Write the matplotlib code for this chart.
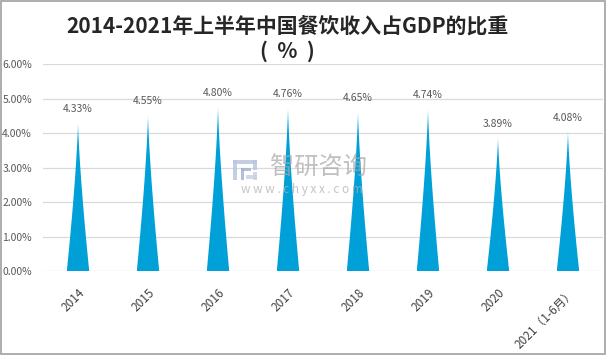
import numpy as np
import matplotlib.pyplot as plt
from matplotlib.patches import Polygon, Rectangle
from matplotlib.colors import LinearSegmentedColormap
from matplotlib.ticker import PercentFormatter

plt.rcParams['font.family'] = ['Noto Sans CJK SC', 'DejaVu Sans']

years = ["2014", "2015", "2016", "2017", "2018", "2019", "2020", "2021（1-6月）"]
shares = [4.33, 4.55, 4.80, 4.76, 4.65, 4.74, 3.89, 4.08]
labels = ["4.33%", "4.55%", "4.80%", "4.76%", "4.65%", "4.74%", "3.89%", "4.08%"]

fig = plt.figure(figsize=(6.06, 3.55), dpi=100)
ax = fig.add_axes([0.071, 0.2366, 0.924, 0.5831])

# gradient used to fill each spike (light tip, strong blue body)
cmap = LinearSegmentedColormap.from_list("spike", ["#00a0d8", "#00a3dc", "#22b8ea", "#e0f5fc"])
grad = np.linspace(0, 1, 256).reshape(-1, 1)

half = 0.16
t = np.linspace(0, 1, 40)
for i, v in enumerate(shares):
    left = np.column_stack([i - half * (1 - t) ** 1.35, v * t])
    right = np.column_stack([i + half * (1 - t[::-1]) ** 1.35, v * t[::-1]])
    poly = Polygon(np.vstack([left, right]), closed=True, facecolor="none", edgecolor="none")
    ax.add_patch(poly)
    img = ax.imshow(grad ** 10, cmap=cmap, aspect="auto", origin="lower",
                    extent=[i - half, i + half, 0, v], zorder=2)
    img.set_clip_path(poly)
    ax.text(i, v + 0.22, labels[i], ha="center", va="bottom", fontsize=7.5, color="#595959")

ax.set_xlim(-0.5, len(years) - 0.5)
ax.set_ylim(0, 6)
ax.set_yticks(np.arange(0, 7, 1))
ax.yaxis.set_major_formatter(PercentFormatter(decimals=2))
ax.grid(axis="y", color="#d9d9d9", linewidth=0.9)
ax.set_axisbelow(True)
for s in ax.spines.values():
    s.set_visible(False)
ax.tick_params(axis="both", length=0)
ax.tick_params(axis="y", labelsize=7.5, labelcolor="#595959", pad=8)

ax.set_xticks(range(len(years)))
ax.set_xticklabels(years, rotation=45, ha="right", va="top", rotation_mode="anchor",
                   fontsize=8.5, color="#404040")
ax.tick_params(axis="x", pad=11)

fig.text(0.475, 0.925, "2014-2021年上半年中国餐饮收入占GDP的比重", ha="center", va="center",
         fontsize=15, fontweight="bold", color="#262626")
fig.text(0.475, 0.857, "(  %  )", ha="center", va="center",
         fontsize=15, fontweight="bold", color="#262626")

# watermark: logo blocks + text
logo = [(233, 160, 24, 4, "#b9c6de"), (233, 160, 4, 20, "#b9c6de"), (253, 160, 4, 10, "#b9c6de"),
        (241, 168, 10, 3, "#a5b5d2"), (241, 168, 3, 12, "#a5b5d2"), (246, 175, 11, 4, "#c9d2e4"),
        (253, 172, 4, 8, "#c9d2e4")]
for x0, y0, w, h, c in logo:
    fig.add_artist(Rectangle((x0 / 606, 1 - (y0 + h) / 355), w / 606, h / 355,
                             transform=fig.transFigure, facecolor=c, edgecolor="none", alpha=0.85))
fig.text(0.525, 0.527, "智研咨询", ha="center", va="center", fontsize=17.5, color="#a6a6a6", alpha=0.7)
fig.text(0.499, 0.466, "w w w . c h y x x . c o m", ha="center", va="center", fontsize=8.5,
         color="#b0b0b0", alpha=0.75)

fig.add_artist(Rectangle((0.001, 0.003), 0.997, 0.994, transform=fig.transFigure,
                         fill=False, edgecolor="#a0a0a0", linewidth=1.2))

fig.savefig("out.png", dpi=100)
